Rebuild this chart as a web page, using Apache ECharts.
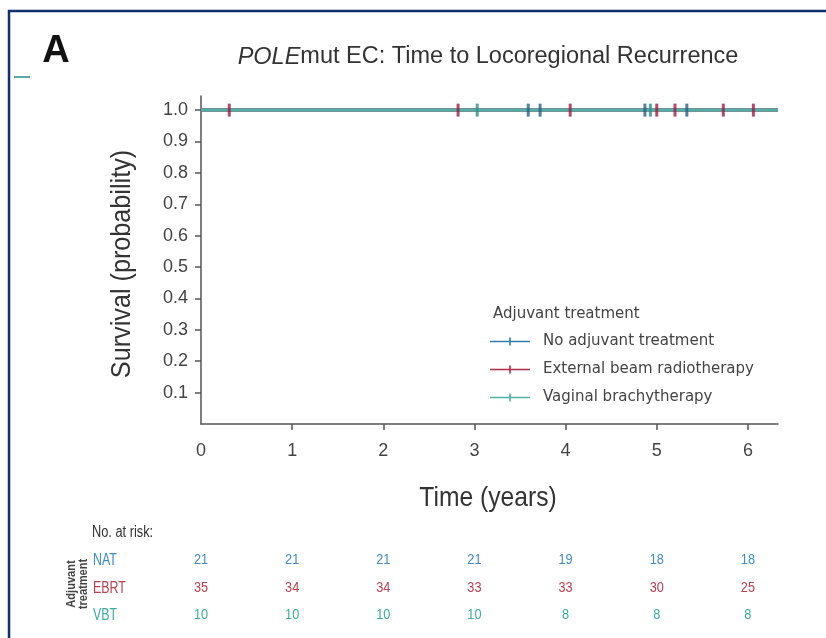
<!DOCTYPE html>
<html>
<head>
<meta charset="utf-8">
<script src="https://cdn.jsdelivr.net/npm/echarts@6/dist/echarts.min.js"></script>
<style>
  html, body { margin: 0; padding: 0; background: #fff; }
  #chart { width: 826px; height: 638px; }
</style>
</head>
<body>
<div id="chart"></div>
<script>
// Kaplan-Meier data: time to locoregional recurrence, POLE-mutant endometrial cancer
const groupNames = ['No adjuvant treatment', 'External beam radiotherapy', 'Vaginal brachytherapy'];
const groupShort = ['NAT', 'EBRT', 'VBT'];
const groupColors = ['#2f7fa8', '#b02a4a', '#4fb0a6'];
const censorColors = ['#2a5f8a', '#9c1f44', '#2f8f86'];
const riskColors = ['#3f8cc0', '#b8404f', '#3aac9f'];

// survival steps [time, probability] for each group (no events observed)
const survNAT = [[0, 1.0], [6.33, 1.0]];
const survEBRT = [[0, 1.0], [6.33, 1.0]];
const survVBT = [[0, 1.0], [6.33, 1.0]];

// censoring times (years)
const censorNAT = [3.59, 3.72, 4.87, 5.33];
const censorEBRT = [0.31, 2.82, 4.05, 5.0, 5.2, 5.73, 6.06];
const censorVBT = [3.03, 4.93];

// numbers at risk
const riskTimes = [0, 1, 2, 3, 4, 5, 6];
const riskNAT = [21, 21, 21, 21, 19, 18, 18];
const riskEBRT = [35, 34, 34, 33, 33, 30, 25];
const riskVBT = [10, 10, 10, 10, 8, 8, 8];

const xTicks = [0, 1, 2, 3, 4, 5, 6];
const yTicks = [0.1, 0.2, 0.3, 0.4, 0.5, 0.6, 0.7, 0.8, 0.9, 1.0];

const survData = [survNAT, survEBRT, survVBT];
const censorData = [censorNAT, censorEBRT, censorVBT];
const riskData = [riskNAT, riskEBRT, riskVBT];

const chart = echarts.init(document.getElementById('chart'));

const lineSeries = survData.map((d, i) => ({
  name: groupNames[i],
  type: 'line',
  step: 'end',
  data: d,
  symbol: 'none',
  lineStyle: { color: groupColors[i], width: 3 },
  itemStyle: { color: groupColors[i] },
  z: 2 + i
}));

const censorSeries = censorData.map((d, i) => ({
  name: groupNames[i],
  type: 'scatter',
  data: d.map(t => [t, 1.0]),
  symbol: 'rect',
  symbolSize: [3, 13],
  itemStyle: { color: censorColors[i] },
  z: 10
}));

const axisColor = '#555';
const option = {
  animation: false,
  grid: { left: 201, right: 48, top: 96, bottom: 214 },
  xAxis: {
    type: 'value', min: 0, max: 6.33,
    axisLine: { lineStyle: { color: axisColor, width: 1.5 } },
    axisTick: { length: 6, lineStyle: { color: axisColor, width: 1.5 }, customValues: xTicks.slice(1) },
    axisLabel: { customValues: xTicks, color: '#444', fontSize: 18, fontFamily: 'Liberation Sans', margin: 18 },
    splitLine: { show: false }
  },
  yAxis: {
    type: 'value', min: 0, max: 1.045,
    axisLine: { show: true, lineStyle: { color: axisColor, width: 1.5 } },
    axisTick: { show: true, length: 6, lineStyle: { color: axisColor, width: 1.5 }, customValues: yTicks },
    axisLabel: { customValues: yTicks, formatter: v => v.toFixed(1), color: '#444', fontSize: 18, fontFamily: 'Liberation Sans', margin: 13 },
    splitLine: { show: false }
  },
  legend: {
    data: groupNames,
    orient: 'vertical',
    left: 485, top: 329,
    itemWidth: 40, itemHeight: 12, itemGap: 13,
    icon: 'path://M0,5.2h40v1.6h-40z M19.2,2h1.6v8h-1.6z',
    textStyle: { fontSize: 15, color: '#444', fontFamily: 'DejaVu Sans', padding: [0, 0, 0, 8] },
    selectedMode: false
  },
  series: lineSeries.concat(censorSeries)
};
chart.setOption(option);

// Title, panel letter, frame, axis names, legend heading and the numbers-at-risk table
const g = [
  { type: 'rect', shape: { x: 9, y: 11, width: 900, height: 700 }, style: { fill: 'none', stroke: '#10306c', lineWidth: 2.5 }, silent: true },
  { type: 'rect', shape: { x: 14, y: 76, width: 16, height: 2 }, style: { fill: '#5aa9a8' }, silent: true },
  { type: 'text', x: 56, y: 52, style: { text: 'A', font: 'bold 38px "Liberation Sans"', fill: '#111', align: 'center', verticalAlign: 'middle' } },
  { type: 'text', x: 488, y: 57, style: {
      text: '{i|POLE}{n|mut EC: Time to Locoregional Recurrence}',
      align: 'center', verticalAlign: 'middle',
      rich: {
        i: { font: 'italic 23.5px "Liberation Sans"', fill: '#333' },
        n: { font: '23.5px "Liberation Sans"', fill: '#333' }
      } } },
  { type: 'text', x: 488, y: 498, scaleX: 0.88, style: { text: 'Time (years)', font: '28px "Liberation Sans"', fill: '#333', align: 'center', verticalAlign: 'middle' } },
  { type: 'text', x: 122, y: 264, rotation: Math.PI / 2, scaleX: 0.9, style: { text: 'Survival (probability)', font: '28px "Liberation Sans"', fill: '#333', align: 'center', verticalAlign: 'middle' } },
  { type: 'text', x: 493, y: 314, style: { text: 'Adjuvant treatment', font: '15px "DejaVu Sans"', fill: '#444', verticalAlign: 'middle' } },
  { type: 'text', x: 92, y: 533, scaleX: 0.8, style: { text: 'No. at risk:', font: '16px "Liberation Sans"', fill: '#333', verticalAlign: 'middle' } },
  { type: 'text', x: 77, y: 584, rotation: Math.PI / 2, scaleX: 0.85, style: {
      text: 'Adjuvant\ntreatment', font: 'bold 13px "Liberation Sans"', fill: '#444',
      align: 'center', verticalAlign: 'middle', lineHeight: 12 } }
];
const rowY = [560, 588, 615];
for (let r = 0; r < 3; r++) {
  g.push({ type: 'text', x: 93, y: rowY[r], scaleX: 0.75, style: { text: groupShort[r], font: '16.5px "Liberation Sans"', fill: riskColors[r], verticalAlign: 'middle' } });
  riskTimes.forEach((t, k) => {
    const px = chart.convertToPixel({ xAxisIndex: 0 }, t);
    g.push({ type: 'text', x: px, y: rowY[r], scaleX: 0.85, style: { text: String(riskData[r][k]), font: '15px "Liberation Sans"', fill: riskColors[r], align: 'center', verticalAlign: 'middle' } });
  });
}
chart.setOption({ graphic: g });
</script>
</body>
</html>
